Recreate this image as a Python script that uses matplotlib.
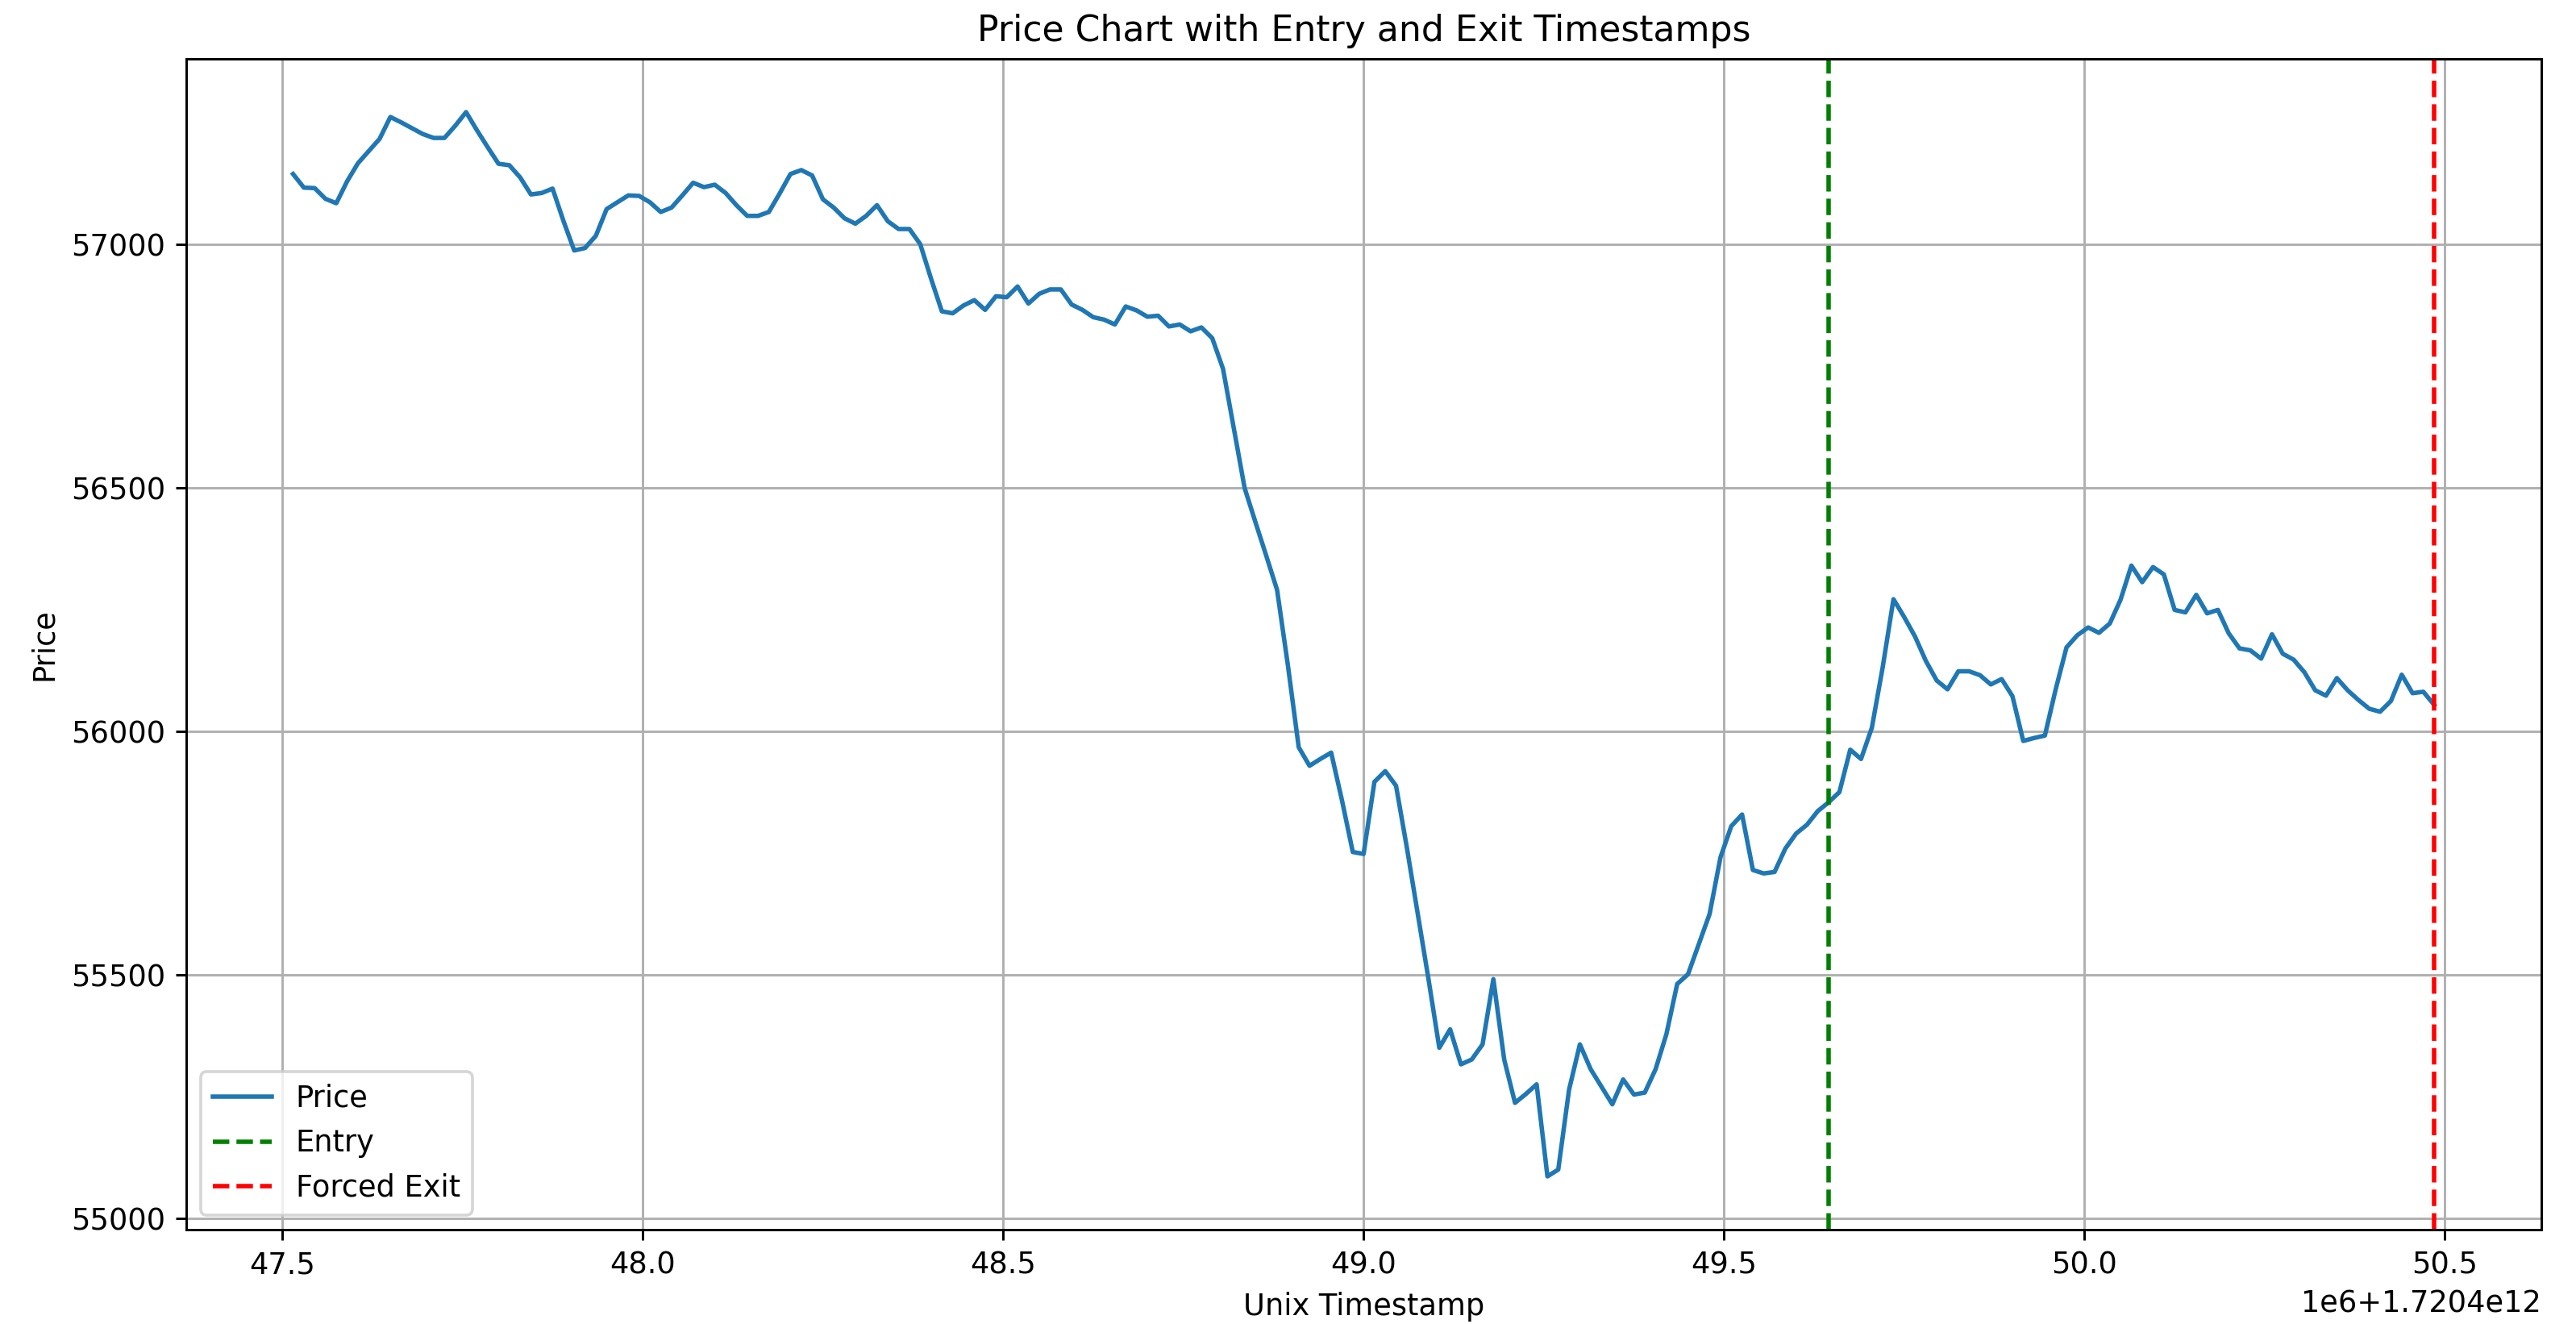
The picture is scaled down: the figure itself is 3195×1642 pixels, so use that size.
import numpy as np
import matplotlib
matplotlib.use("Agg")
import matplotlib.pyplot as plt

# Sampling: one price every 15 seconds (timestamps in milliseconds)
start_ms = 1720447515000
step_ms = 15000

prices = [
    57144, 57116, 57115, 57093, 57084, 57129, 57166, 57191, 57216, 57261,
    57250, 57238, 57226, 57218, 57218, 57243, 57271, 57234, 57199, 57165,
    57162, 57137, 57102, 57105, 57114, 57048, 56987, 56992, 57017, 57072,
    57086, 57100, 57099, 57086, 57066, 57075, 57100, 57126, 57117, 57122,
    57105, 57080, 57058, 57058, 57066, 57104, 57144, 57152, 57141, 57092,
    57075, 57053, 57042, 57058, 57080, 57047, 57031, 57031, 57000, 56929,
    56862, 56858, 56874, 56885, 56865, 56893, 56891, 56913, 56878, 56898,
    56907, 56907, 56876, 56865, 56850, 56845, 56835, 56872, 56864, 56851,
    56853, 56831, 56835, 56821, 56829, 56807, 56744, 56622, 56499, 56429,
    56360, 56290, 56135, 55967, 55929, 55943, 55956, 55858, 55752, 55748,
    55896, 55918, 55888, 55761, 55626, 55491, 55350, 55388, 55316, 55326,
    55357, 55491, 55326, 55237, 55255, 55275, 55086, 55100, 55264, 55357,
    55306, 55270, 55234, 55285, 55254, 55258, 55306, 55378, 55481, 55501,
    55563, 55625, 55741, 55805, 55829, 55715, 55708, 55711, 55759, 55790,
    55808, 55836, 55854, 55875, 55962, 55943, 56007, 56131, 56271, 56234,
    56194, 56144, 56104, 56086, 56123, 56123, 56115, 56096, 56107, 56072,
    55980, 55986, 55991, 56086, 56172, 56197, 56213, 56202, 56221, 56270,
    56340, 56306, 56337, 56322, 56249, 56244, 56280, 56242, 56249, 56201,
    56170, 56166, 56149, 56199, 56159, 56147, 56121, 56084, 56073, 56109,
    56084, 56064, 56046, 56040, 56062, 56116, 56078, 56081, 56054,
]

timestamps = start_ms + step_ms * np.arange(len(prices))

entry_index = 142
exit_index = len(prices) - 1
entry_time = timestamps[entry_index]
exit_time = timestamps[exit_index]

dpi = 265
fig = plt.figure(figsize=(3195 / dpi, 1642 / dpi), dpi=dpi)
ax = fig.add_subplot(111)
fig.subplots_adjust(left=0.0722, right=0.9865, top=0.9555, bottom=0.0713)

ax.plot(timestamps, prices, label="Price")
ax.axvline(entry_time, color="green", linestyle="--", label="Entry")
ax.axvline(exit_time, color="red", linestyle="--", label="Forced Exit")

ax.set_title("Price Chart with Entry and Exit Timestamps")
ax.set_xlabel("Unix Timestamp")
ax.set_ylabel("Price")
ax.legend(loc="lower left")
ax.grid(True)

fig.savefig("out.png", dpi=dpi)
